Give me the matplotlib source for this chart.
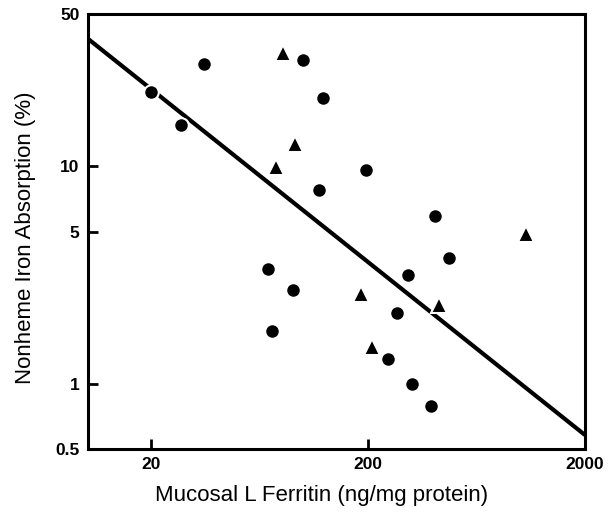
import numpy as np
import matplotlib.pyplot as plt
from matplotlib.ticker import FixedLocator, FixedFormatter, NullLocator

# circles (ferritin ng/mg protein, absorption %)
circle_x = [20, 27.5, 35.2, 100.7, 124.6, 119.4, 197, 410, 475,
            69.4, 90.6, 72.4, 308, 273, 249, 318, 393]
circle_y = [22, 15.5, 29.5, 30.8, 20.6, 7.75, 9.6, 5.9, 3.77,
            3.35, 2.68, 1.74, 3.15, 2.10, 1.29, 0.99, 0.79]

# triangles
tri_x = [81.5, 92.5, 75.6, 187, 424, 210, 1068]
tri_y = [33.2, 12.6, 9.9, 2.57, 2.29, 1.48, 4.86]

# regression line end points
line_x = [10.3, 2000]
line_y = [38.5, 0.58]

x_ticks = [20, 200, 2000]
y_ticks = [0.5, 1, 5, 10, 50]

plt.rcParams['font.family'] = ['Liberation Sans', 'DejaVu Sans']

fig = plt.figure(figsize=(6.09, 5.14), dpi=100)
ax = fig.add_axes([0.1445, 0.1265, 0.816, 0.846])

ax.plot(line_x, line_y, color='black', lw=3, solid_capstyle='butt', zorder=2)
ax.plot(circle_x, circle_y, 'o', color='black', ms=10.5, mec='white', mew=1.5, zorder=3)
ax.plot(tri_x, tri_y, '^', color='black', ms=11, mec='white', mew=1.5, zorder=3)

ax.set_xscale('log')
ax.set_yscale('log')
ax.set_xlim(10.3, 2000)
ax.set_ylim(0.5, 50)

ax.xaxis.set_major_locator(FixedLocator(x_ticks))
ax.xaxis.set_major_formatter(FixedFormatter([str(v) for v in x_ticks]))
ax.xaxis.set_minor_locator(NullLocator())
ax.yaxis.set_major_locator(FixedLocator(y_ticks))
ax.yaxis.set_major_formatter(FixedFormatter([str(v) for v in y_ticks]))
ax.yaxis.set_minor_locator(NullLocator())

ax.tick_params(direction='in', length=7, width=2, labelsize=12.5, pad=6)
for lab in ax.get_xticklabels() + ax.get_yticklabels():
    lab.set_fontweight('bold')

for s in ax.spines.values():
    s.set_linewidth(2.2)

ax.set_xlabel('Mucosal L Ferritin (ng/mg protein)', fontsize=16)
ax.set_ylabel('Nonheme Iron Absorption (%)', fontsize=16)
# labels sit a bit off-centre in the original
ax.xaxis.set_label_coords(0.471, -0.083)
ax.yaxis.set_label_coords(-0.105, 0.485)

fig.savefig('out.png', dpi=100)
